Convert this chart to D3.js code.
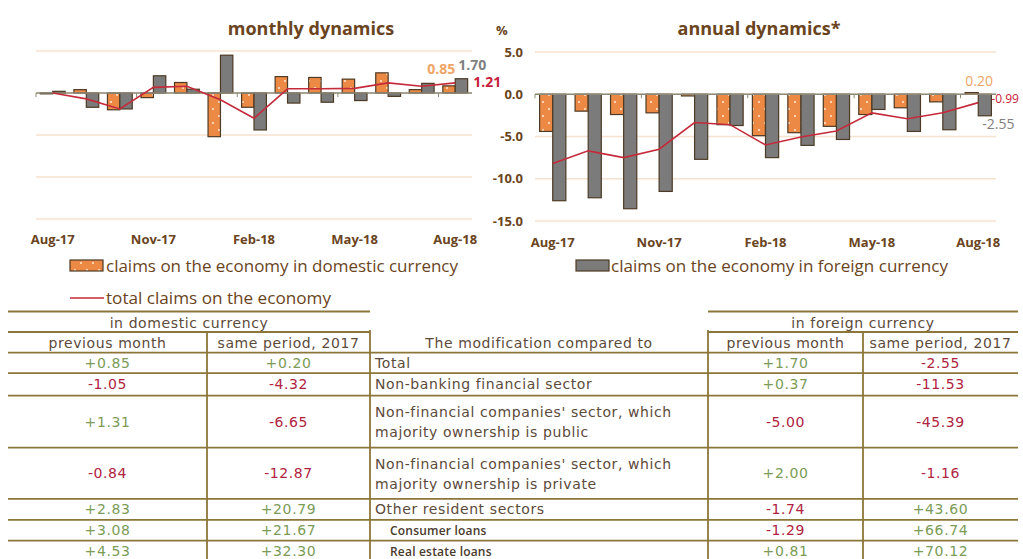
<!DOCTYPE html>
<html>
<head>
<meta charset="utf-8">
<script src="https://cdn.jsdelivr.net/npm/d3@7/dist/d3.min.js"></script>
<style>
  body { margin: 0; background: #fff; }
  svg { display: block; }
</style>
</head>
<body>
<div id="chart"></div>
<script>
// ---- data ----
const months = ['Aug-17', 'Sep-17', 'Oct-17', 'Nov-17', 'Dec-17', 'Jan-18', 'Feb-18',
                'Mar-18', 'Apr-18', 'May-18', 'Jun-18', 'Jul-18', 'Aug-18'];
const tickMonths = ['Aug-17', 'Nov-17', 'Feb-18', 'May-18', 'Aug-18'];
const yTicks = [5, 0, -5, -10, -15];

// monthly dynamics, %
const monthlyDomestic = [-0.1, 0.4, -2.0, -0.55, 1.25, -5.2, -1.7, 1.95, 1.85, 1.65, 2.4, 0.4, 0.85];
const monthlyForeign  = [0.2, -1.7, -1.9, 2.05, 0.45, 4.5, -4.4, -1.2, -1.1, -0.9, -0.4, 1.15, 1.70];
const monthlyTotal    = [0.0, -0.7, -1.9, 0.67, 0.8, -0.8, -3.0, 0.5, 0.5, 0.55, 1.2, 0.8, 1.21];

// annual dynamics, %
const annualDomestic = [-4.4, -2.0, -2.4, -2.2, -0.2, -3.6, -4.9, -4.55, -3.8, -2.4, -1.6, -0.9, 0.20];
const annualForeign  = [-12.6, -12.25, -13.55, -11.5, -7.7, -3.7, -7.5, -6.05, -5.35, -1.8, -4.4, -4.2, -2.55];
const annualTotal    = [-8.2, -6.7, -7.5, -6.5, -3.35, -3.6, -6.0, -5.05, -4.35, -2.2, -2.9, -2.2, -0.99];

// table
const rowLabels = [
  ['Total'],
  ['Non-banking financial sector'],
  ["Non-financial companies' sector, which", 'majority ownership is public'],
  ["Non-financial companies' sector, which", 'majority ownership is private'],
  ['Other resident sectors'],
  ['Consumer loans'],
  ['Real estate loans']
];
const subRows = [false, false, false, false, false, true, true];
const domPrevMonth   = ['+0.85', '-1.05', '+1.31', '-0.84', '+2.83', '+3.08', '+4.53'];
const domSamePeriod  = ['+0.20', '-4.32', '-6.65', '-12.87', '+20.79', '+21.67', '+32.30'];
const forPrevMonth   = ['+1.70', '+0.37', '-5.00', '+2.00', '-1.74', '-1.29', '+0.81'];
const forSamePeriod  = ['-2.55', '-11.53', '-45.39', '-1.16', '+43.60', '+66.74', '+70.12'];

// ---- styles ----
const C = {
  orange: '#ec8a45', gray: '#7b7b7b', stroke: '#4d3a24', red: '#c52a3a',
  grid: '#f6e2cf', axis: '#8d8a78', brown: '#6a4421', text: '#5c4a3a',
  tableLine: '#8c7638', green: '#7b9b57', neg: '#b0233f'
};
const chartFont = "'Open Sans', 'DejaVu Sans', sans-serif";
const tableFont = "'DejaVu Sans', sans-serif";

const svg = d3.select('#chart').append('svg')
  .attr('width', 1023).attr('height', 559)
  .style('font-family', chartFont);

const defs = svg.append('defs');
const pat = defs.append('pattern')
  .attr('id', 'dots').attr('patternUnits', 'userSpaceOnUse')
  .attr('width', 12).attr('height', 14);
pat.append('rect').attr('width', 12).attr('height', 14).attr('fill', C.orange);
pat.append('circle').attr('cx', 3).attr('cy', 4).attr('r', 0.9).attr('fill', '#fff5e8');
pat.append('circle').attr('cx', 9).attr('cy', 11).attr('r', 0.9).attr('fill', '#fff5e8');

function drawPanel(cfg) {
  const g = svg.append('g');
  const x = d3.scaleBand().domain(months).range(cfg.xRange)
    .paddingInner(0.26).paddingOuter(0.13);
  const sub = d3.scaleBand().domain(['dom', 'for']).range([0, x.bandwidth()]);
  const y = d3.scaleLinear().domain([-15, 5]).range(cfg.yRange);

  // gridlines
  g.selectAll('.grid').data(yTicks).enter().append('line')
    .attr('x1', cfg.xRange[0]).attr('x2', cfg.xRange[1])
    .attr('y1', d => y(d)).attr('y2', d => y(d))
    .attr('stroke', C.grid).attr('stroke-width', 1.5);

  if (cfg.showY) {
    g.selectAll('.ylab').data(yTicks).enter().append('text')
      .attr('x', cfg.xRange[0] - 12).attr('y', d => y(d)).attr('dy', '0.35em')
      .attr('text-anchor', 'end').attr('font-size', 13).attr('font-weight', 'bold')
      .attr('fill', C.brown).text(d => d.toFixed(1));
    g.append('text').attr('x', cfg.xRange[0] - 39).attr('y', 35)
      .attr('font-size', 13).attr('font-weight', 'bold').attr('fill', C.brown).text('%');
  }

  // title
  g.append('text').attr('x', cfg.titleX).attr('y', 35).attr('text-anchor', 'middle')
    .attr('font-size', 18).attr('font-weight', 'bold').attr('fill', C.brown)
    .text(cfg.title);

  // bars
  const bars = [
    { key: 'dom', values: cfg.dom, fill: 'url(#dots)' },
    { key: 'for', values: cfg.for, fill: C.gray }
  ];
  bars.forEach(s => {
    g.selectAll('.bar-' + s.key).data(s.values).enter().append('rect')
      .attr('x', (d, i) => x(months[i]) + sub(s.key))
      .attr('width', sub.bandwidth())
      .attr('y', d => y(Math.max(0, d)))
      .attr('height', d => Math.max(0.8, Math.abs(y(d) - y(0))))
      .attr('fill', s.fill).attr('stroke', C.stroke).attr('stroke-width', 1.2);
  });

  // zero axis + ticks
  g.append('line').attr('x1', cfg.xRange[0]).attr('x2', cfg.xRange[1])
    .attr('y1', y(0)).attr('y2', y(0)).attr('stroke', C.axis).attr('stroke-width', 1.3);
  const step = x.step();
  g.selectAll('.tick').data([0, 3, 6, 9, 12]).enter().append('line')
    .attr('x1', d => cfg.xRange[0] + d * step).attr('x2', d => cfg.xRange[0] + d * step)
    .attr('y1', y(0)).attr('y2', y(0) + 4).attr('stroke', C.axis).attr('stroke-width', 1);

  // x labels
  g.selectAll('.xlab').data(tickMonths).enter().append('text')
    .attr('x', d => x(d) + x.bandwidth() / 2).attr('y', cfg.xLabelY)
    .attr('text-anchor', 'middle').attr('font-size', 13).attr('font-weight', 'bold')
    .attr('fill', C.brown).text(d => d);

  // total line
  const line = d3.line()
    .x((d, i) => x(months[i]) + x.bandwidth() / 2)
    .y(d => y(d));
  g.append('path').datum(cfg.total).attr('d', line)
    .attr('fill', 'none').attr('stroke', C.red).attr('stroke-width', 1.6);

  // end labels
  const last = months.length - 1;
  const cx = x(months[last]) + x.bandwidth() / 2;
  cfg.labels.forEach(l => {
    g.append('text').attr('x', cx + l.dx).attr('y', y(l.value) + l.dy)
      .attr('font-size', l.size || 14).attr('font-weight', l.bold ? 'bold' : 'normal')
      .attr('fill', l.color).text(l.text);
  });
}

drawPanel({
  title: 'monthly dynamics', titleX: 311, xRange: [36, 472], yRange: [219, 51],
  xLabelY: 244, showY: false,
  dom: monthlyDomestic, for: monthlyForeign, total: monthlyTotal,
  labels: [
    { value: monthlyDomestic[12], text: monthlyDomestic[12].toFixed(2), dx: -28, dy: -12, color: '#f0a565', bold: true },
    { value: monthlyForeign[12], text: monthlyForeign[12].toFixed(2), dx: 3, dy: -9, color: '#808080', bold: true },
    { value: monthlyTotal[12], text: monthlyTotal[12].toFixed(2), dx: 18, dy: 4, color: '#c8203a', bold: true }
  ]
});

drawPanel({
  title: 'annual dynamics*', titleX: 759, xRange: [535, 996], yRange: [221, 52],
  xLabelY: 247, showY: true,
  dom: annualDomestic, for: annualForeign, total: annualTotal,
  labels: [
    { value: annualDomestic[12], text: annualDomestic[12].toFixed(2), dx: -13, dy: -7, color: '#f0a565' },
    { value: annualTotal[12], text: annualTotal[12].toFixed(2), dx: 13, dy: 0, color: '#c8203a', size: 12 },
    { value: annualForeign[12], text: annualForeign[12].toFixed(2), dx: 4, dy: 13, color: '#808080' }
  ]
});

// ---- legend ----
const leg = svg.append('g').attr('fill', C.brown).attr('font-size', 17);
leg.append('rect').attr('x', 70).attr('y', 260).attr('width', 33).attr('height', 11)
  .attr('fill', 'url(#dots)').attr('stroke', C.stroke).attr('stroke-width', 1.2);
leg.append('text').attr('x', 106).attr('y', 272).attr('textLength', 352)
  .attr('lengthAdjust', 'spacingAndGlyphs').text('claims on the economy in domestic currency');
leg.append('rect').attr('x', 576).attr('y', 260).attr('width', 33).attr('height', 11)
  .attr('fill', C.gray).attr('stroke', C.stroke).attr('stroke-width', 1.2);
leg.append('text').attr('x', 611).attr('y', 272).attr('textLength', 337)
  .attr('lengthAdjust', 'spacingAndGlyphs').text('claims on the economy in foreign currency');
leg.append('line').attr('x1', 70).attr('x2', 104).attr('y1', 298).attr('y2', 298)
  .attr('stroke', C.red).attr('stroke-width', 1.5);
leg.append('text').attr('x', 106).attr('y', 304).attr('textLength', 225)
  .attr('lengthAdjust', 'spacingAndGlyphs').text('total claims on the economy');

// ---- table ----
const tb = svg.append('g').style('font-family', tableFont).attr('font-size', 14)
  .attr('letter-spacing', 0.6);
const colL = [8, 207, 370, 708, 863, 1018];
const rowH = [20.6, 22.4, 52, 51.3, 21, 20.7, 20.7];
const topY = 352.6;
const rowTops = rowH.reduce((acc, h) => { acc.push(acc[acc.length - 1] + h); return acc; }, [topY]);
const lineAttr = s => s.attr('stroke', C.tableLine).attr('stroke-width', 1.8);

// group header lines
tb.append('line').attr('x1', colL[0]).attr('x2', colL[2]).attr('y1', 311.5).attr('y2', 311.5).call(lineAttr);
tb.append('line').attr('x1', colL[3]).attr('x2', colL[5]).attr('y1', 311.5).attr('y2', 311.5).call(lineAttr);
tb.append('line').attr('x1', colL[0]).attr('x2', colL[2]).attr('y1', 332).attr('y2', 332).call(lineAttr);
tb.append('line').attr('x1', colL[3]).attr('x2', colL[5]).attr('y1', 332).attr('y2', 332).call(lineAttr);
// row lines
rowTops.forEach(t => {
  tb.append('line').attr('x1', colL[0]).attr('x2', colL[5]).attr('y1', t).attr('y2', t).call(lineAttr);
});
// vertical lines
[1, 2, 3, 4].forEach(c => {
  tb.append('line').attr('x1', colL[c]).attr('x2', colL[c]).attr('y1', c === 2 || c === 3 ? 330 : 332)
    .attr('y2', 559).call(lineAttr);
});

tb.append('text').attr('x', (colL[0] + colL[2]) / 2).attr('y', 328).attr('text-anchor', 'middle')
  .attr('fill', C.text).text('in domestic currency');
tb.append('text').attr('x', (colL[3] + colL[5]) / 2).attr('y', 328).attr('text-anchor', 'middle')
  .attr('fill', C.text).text('in foreign currency');
const heads = ['previous month', 'same period, 2017', 'The modification compared to', 'previous month', 'same period, 2017'];
heads.forEach((h, i) => {
  tb.append('text').attr('x', (colL[i] + colL[i + 1]) / 2).attr('y', 348)
    .attr('text-anchor', 'middle').attr('fill', C.text).text(h);
});

const valueCols = [domPrevMonth, domSamePeriod, null, forPrevMonth, forSamePeriod];
rowLabels.forEach((lines, r) => {
  const top = rowTops[r];
  const mid = top + rowH[r] / 2;
  if (lines.length === 1) {
    const t = tb.append('text').attr('x', subRows[r] ? 390 : 375).attr('y', mid + 5)
      .attr('fill', C.text).text(lines[0]);
    if (subRows[r]) {
      t.style('font-family', "'Open Sans', sans-serif").attr('font-size', 12)
        .attr('font-weight', 600).attr('letter-spacing', 0.2).attr('fill', '#4a3a2c');
    }
  } else {
    lines.forEach((ln, k) => {
      tb.append('text').attr('x', 375).attr('y', top + 21 + k * 20.5).attr('fill', C.text).text(ln);
    });
  }
  valueCols.forEach((col, c) => {
    if (!col) return;
    const v = col[r];
    tb.append('text').attr('x', (colL[c] + colL[c + 1]) / 2).attr('y', mid + 5)
      .attr('text-anchor', 'middle').attr('fill', v.startsWith('-') ? C.neg : C.green).text(v);
  });
});
</script>
</body>
</html>
